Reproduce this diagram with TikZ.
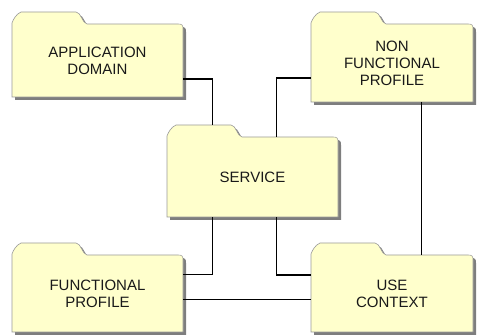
\documentclass[tikz,border=0pt]{standalone}
\usepackage{fontspec}
\setmainfont{Liberation Sans}
\usepackage{xcolor}
\usepackage{tikz}
\usetikzlibrary{positioning}

\definecolor{folderfill}{HTML}{FFFFCC}
\definecolor{folderline}{HTML}{9A9A9A}
\definecolor{foldershadow}{HTML}{7E7E7E}

% folder: name, x, y (top left of body), width, height, text
\newcommand{\folder}[6]{%
  \begin{scope}[shift={(#2,#3)}]
    \fill[foldershadow, shift={(3,3)}] (0,#5) -- (0,-1) .. controls (1,-4) and (4,-10) .. (9,-12) -- (64,-12)
      .. controls (69,-12) and (70,-1) .. (75,0) -- ({#4-5},0) .. controls ({#4-1},0) and (#4,1) .. (#4,5) -- (#4,#5) -- cycle;
    \filldraw[fill=folderfill, draw=folderline, line width=0.6pt] (0,#5) -- (0,-1) .. controls (1,-4) and (4,-10) .. (9,-12) -- (64,-12)
      .. controls (69,-12) and (70,-1) .. (75,0) -- ({#4-5},0) .. controls ({#4-1},0) and (#4,1) .. (#4,5) -- (#4,#5) -- cycle;
  \end{scope}
  \node[lbl, minimum width=#4pt, minimum height=#5pt] (#1) at ({#2+#4/2},{#3+#5/2}) {#6};
}

\begin{document}
\begin{tikzpicture}[x=1pt, y=-1pt,
  lbl/.style={inner sep=0pt, align=center, text=black!90, font=\fontsize{15}{17}\selectfont},
  wire/.style={line width=1.25pt, black}]
\useasboundingbox (0,0) rectangle (477,336);

% Folders
\folder{app}{12}{24}{171}{73}{APPLICATION\\DOMAIN}
\folder{nfp}{311}{24}{162}{78}{NON\\FUNCTIONAL\\PROFILE}
\folder{service}{167}{137}{171}{80}{SERVICE}
\folder{fp}{12}{255}{171}{77}{FUNCTIONAL\\PROFILE}
\folder{uc}{311}{255}{162}{77}{USE\\CONTEXT}

% Links to the service
\draw[wire] ([yshift=-18.5pt]app.east) -| ([xshift=46pt,yshift=12pt]service.north west);
\draw[wire] ([yshift=-15pt]nfp.west) -| ([xshift=110pt]service.north west);
\draw[wire] ([xshift=46pt]service.south west) |- ([yshift=19pt]fp.east);
\draw[wire] ([xshift=110pt]service.south west) |- ([yshift=18.5pt]uc.west);

% Other links
\draw[wire] ([yshift=-6pt]fp.east) -- ([yshift=-6pt]uc.west);
\draw[wire] ([xshift=111pt]nfp.south west) -- ([xshift=111pt]uc.north west);

\end{tikzpicture}
\end{document}
